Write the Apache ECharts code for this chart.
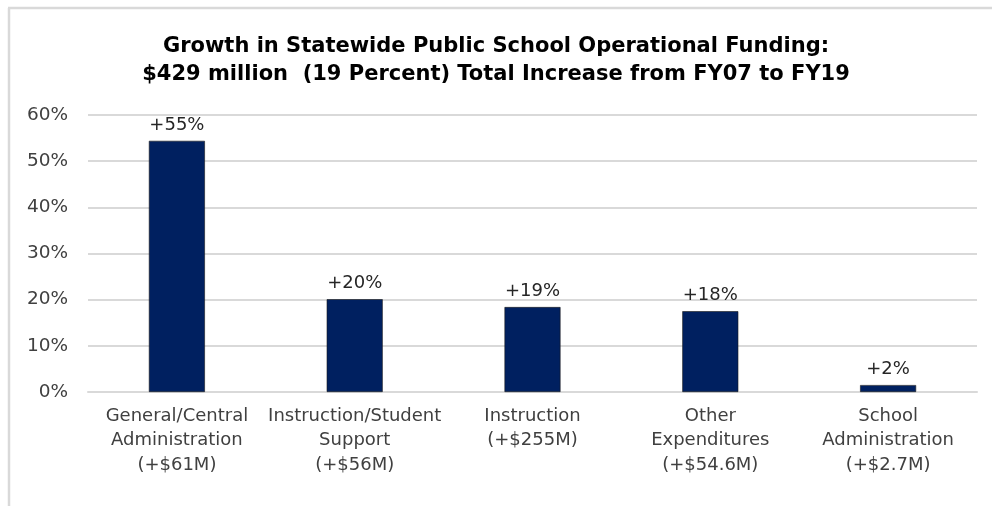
<!DOCTYPE html>
<html><head><meta charset="utf-8">
<script src="https://cdn.jsdelivr.net/npm/echarts@6/dist/echarts.min.js"></script>
<style>html,body{margin:0;padding:0;background:#fff}#c{width:992px;height:506px}</style>
</head><body><div id="c"></div>
<script>
var categories = ["General/Central\nAdministration\n(+$61M)", "Instruction/Student\nSupport\n(+$56M)", "Instruction\n(+$255M)", "Other\nExpenditures\n(+$54.6M)", "School\nAdministration\n(+$2.7M)"];
var growthPct = [54.4, 20.1, 18.4, 17.5, 1.5];
var barLabels = ["+55%", "+20%", "+19%", "+18%", "+2%"];
var titleText = "Growth in Statewide Public School Operational Funding:\n$429 million  (19 Percent) Total Increase from FY07 to FY19";

var chart = echarts.init(document.getElementById('c'), null, {renderer: 'canvas'});
chart.setOption({
  animation: false,
  backgroundColor: '#fff',
  graphic: [
    {type: 'line', shape: {x1: 8, y1: 8, x2: 992, y2: 8}, style: {stroke: '#d9d9d9', lineWidth: 2.5}},
    {type: 'line', shape: {x1: 9, y1: 8, x2: 9, y2: 506}, style: {stroke: '#d9d9d9', lineWidth: 2.5}}
  ],
  title: {
    text: titleText,
    left: 'center', top: 28,
    textStyle: {fontFamily: 'DejaVu Sans', fontWeight: 'bold', fontSize: 21, color: '#000', lineHeight: 28}
  },
  grid: {left: 88, right: 15, top: 115, bottom: 114, containLabel: false},
  xAxis: {
    type: 'category', data: categories,
    axisLine: {show: true, lineStyle: {color: '#d9d9d9', width: 2}},
    axisTick: {show: false},
    axisLabel: {interval: 0, margin: 12, fontFamily: 'DejaVu Sans', fontSize: 18, color: '#404040', lineHeight: 24.5}
  },
  yAxis: {
    type: 'value', min: 0, max: 60, interval: 10,
    axisLine: {show: false}, axisTick: {show: false},
    splitLine: {lineStyle: {color: '#d9d9d9', width: 2}},
    axisLabel: {formatter: '{value}%', margin: 20, fontFamily: 'DejaVu Sans', fontSize: 18.5, color: '#404040'}
  },
  series: [{
    type: 'bar', data: growthPct, barWidth: 56,
    itemStyle: {color: '#002060', borderColor: '#1a1a1a', borderWidth: 0.6},
    label: {show: true, position: 'top', distance: 7, formatter: function(p){return barLabels[p.dataIndex];},
      fontFamily: 'DejaVu Sans', fontSize: 18, color: '#262626'}
  }]
});
</script></body></html>
